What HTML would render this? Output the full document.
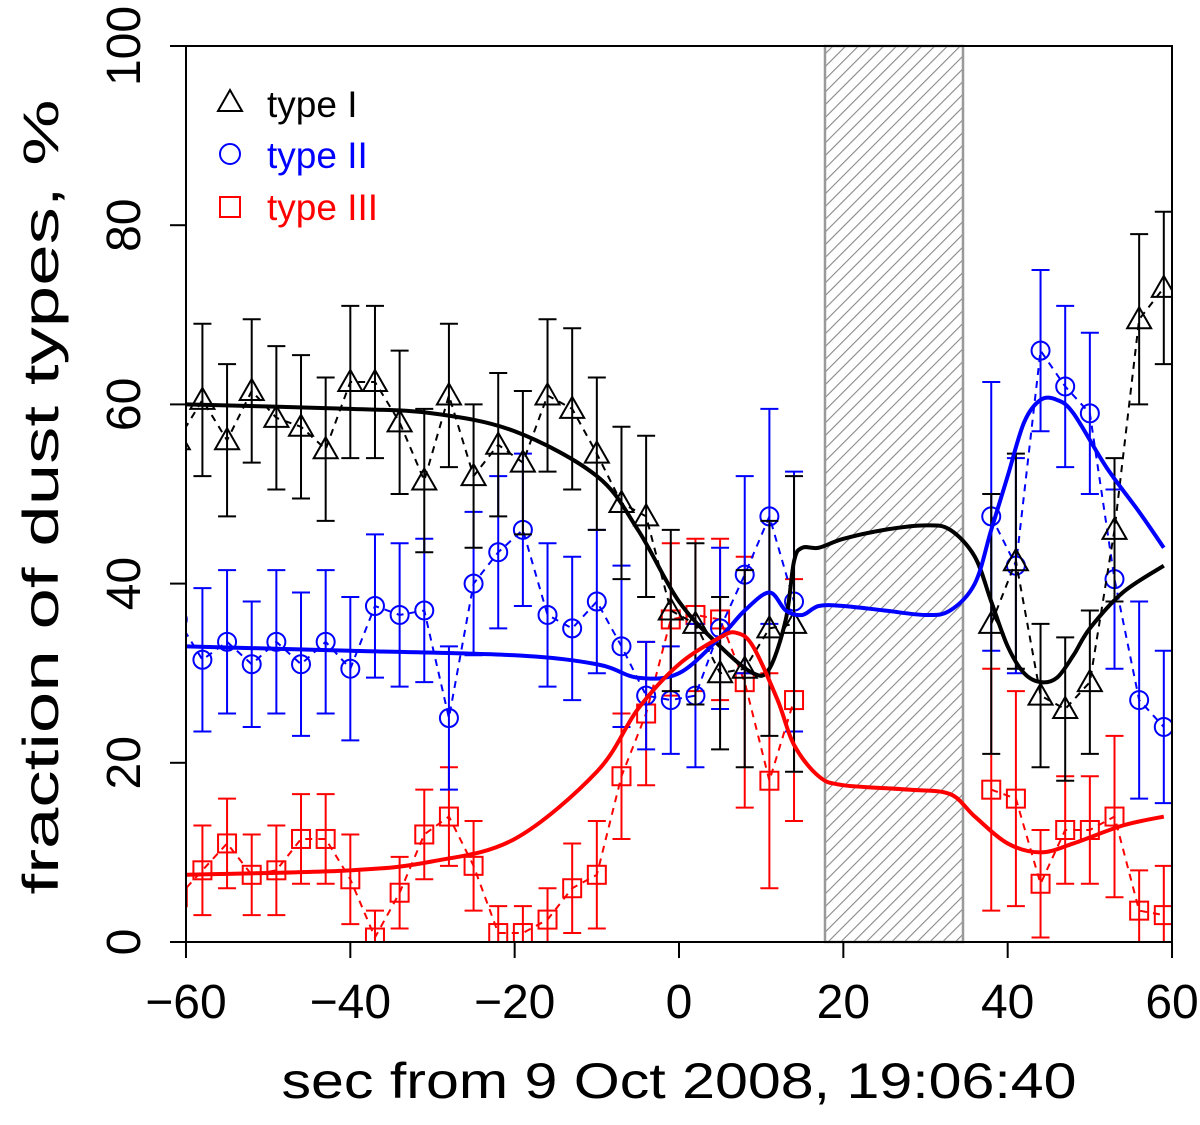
<!DOCTYPE html>
<html><head><meta charset="utf-8"><style>
body{margin:0;background:#fff}
svg text{font-family:"Liberation Sans",sans-serif}
</style></head><body>
<svg id="chart" width="1200" height="1120" viewBox="0 0 1200 1120" xmlns="http://www.w3.org/2000/svg">
<defs>
<pattern id="hatch" patternUnits="userSpaceOnUse" width="9" height="9" patternTransform="rotate(45)">
<line x1="0" y1="0" x2="0" y2="9" stroke="#888" stroke-width="2.2"/>
</pattern>
<clipPath id="clip"><rect x="186" y="46" width="986" height="896"/></clipPath>
</defs>
<rect x="825" y="46" width="138" height="896" fill="url(#hatch)" stroke="#999" stroke-width="2.5"/>
<g id="marks" clip-path="url(#clip)"></g>
<rect x="186" y="46" width="986" height="896" fill="none" stroke="#000" stroke-width="2"/>
<g id="axes"></g>
<text x="679" y="1098" font-size="50" text-anchor="middle" textLength="795" lengthAdjust="spacingAndGlyphs">sec from 9 Oct 2008, 19:06:40</text>
<text transform="translate(58,497) rotate(-90)" font-size="50" text-anchor="middle" textLength="795" lengthAdjust="spacingAndGlyphs">fraction of dust types, %</text>
<g>
<g><polygon points="230,90 242,111 218,111" fill="none" stroke="#000" stroke-width="2"/><text x="267" y="117" font-size="37">type I</text></g>
<g><circle cx="230" cy="154" r="10" fill="none" stroke="#00f" stroke-width="2"/><text x="267" y="168" font-size="37" fill="#00f">type II</text></g>
<g><rect x="220" y="197" width="20" height="20" fill="none" stroke="#f00" stroke-width="2"/><text x="267" y="220" font-size="37" fill="#f00">type III</text></g>
</g>
</svg>
<script>
const times = [-61,-58,-55,-52,-49,-46,-43,-40,-37,-34,-31,-28,-25,-22,-19,-16,-13,-10,-7,-4,-1,2,5,8,11,14,38,41,44,47,50,53,56,59];
const type1 = [56,60.5,56,61.5,58.5,57.5,55,62.5,62.5,58,51.5,61,52,55.5,53.5,61,59.5,54.5,49,47.5,37,35.5,30,30.5,35,35.5,35.5,42.5,27.5,26,29,46,69.5,73];
const type1Err = [8,8.5,8.5,8,8,8,8,8.5,8.5,8,8,8,8,8,8,8.5,9,8.5,8.5,9,9,9,8.5,11,12,16.5,14.5,12,8,8,8,8,9.5,8.5];
const type2 = [36,31.5,33.5,31,33.5,31,33.5,30.5,37.5,36.5,37,25,40,43.5,46,36.5,35,38,33,27.5,27,27.5,35,41,47.5,38,47.5,42,66,62,59,40.5,27,24];
const type2Err = [8,8,8,7,8,8,8,8,8,8,8,8,8,8.5,8.5,8,8,8,9,6,6,8,9,11,12,14.5,15,12,9,9,9,10,11,8.5];
const type3 = [5,8,11,7.5,8,11.5,11.5,7,0.5,5.5,12,14,8.5,1,1,2.5,6,7.5,18.5,25.5,36,36.5,36,29,18,27,17,16,6.5,12.5,12.5,14,3.5,3];
const type3Err = [5,5,5,4.5,5,5,5,5,3,4,5,5.5,5,3,3,3.5,5,6,7,8,8.5,8.5,9,14,12,13.5,13.5,12,6,6,6,9,4.5,5.5];
const smoothT1 = [-60,-40,-30,-20,-10,-5,0,5,9,11,13,14,15,17,20,25,30,33,36,38,40,42,44,46,48,50,54,59];
const smoothV1 = [60,59.5,59,57,52,46,38,33,30,30.5,36,42.5,44,44,45,46,46.5,46,43,38,33,30,29,29.5,32,35,39,42];
const smoothT2 = [-60,-40,-20,-10,-5,0,5,8,11,13,15,17,20,25,30,33,36,38,40,42,44,46,48,52,56,59];
const smoothV2 = [33,32.5,32,31,29.5,30,34,37,39,37,36.5,37.5,37.5,37,36.5,37,40,46,52,58,60.5,60.5,59,53,48,44];
const smoothT3 = [-60,-40,-30,-20,-10,-5,0,5,7,9,12,14,17,20,28,33,36,40,44,48,54,59];
const smoothV3 = [7.5,8,9,11.5,19,26,31,34,34.5,33,27,22,18.5,17.5,17,16.5,14,11,10,11,13,14];
const xTicks = [-60,-40,-20,0,20,40,60];
const yTicks = [0,20,40,60,80,100];

const X = v => 679 + v*8.217;
const Y = v => 942 - v*8.96;
const NS='http://www.w3.org/2000/svg';
const marks=document.getElementById('marks'), axes=document.getElementById('axes');
function mk(tag,attrs,parent){const e=document.createElementNS(NS,tag);for(const k in attrs)e.setAttribute(k,attrs[k]);parent.appendChild(e);return e;}

function smoothPath(ts,vs){
  const p=ts.map((t,i)=>[X(t),Y(vs[i])]);
  let d=`M${p[0][0]},${p[0][1]}`;
  for(let i=0;i<p.length-1;i++){
    const p0=p[Math.max(0,i-1)],p1=p[i],p2=p[i+1],p3=p[Math.min(p.length-1,i+2)];
    const c1=[p1[0]+(p2[0]-p0[0])/6,p1[1]+(p2[1]-p0[1])/6];
    const c2=[p2[0]-(p3[0]-p1[0])/6,p2[1]-(p3[1]-p1[1])/6];
    d+=` C${c1[0]},${c1[1]} ${c2[0]},${c2[1]} ${p2[0]},${p2[1]}`;
  }
  return d;
}

function series(vals,errs,color,shape,name){
  const g=mk('g',{},marks);
  
  
  let d='';
  times.forEach((t,i)=>{
    const brk = i>0 && times[i]-times[i-1]>5;
    d += (i===0||brk?'M':'L')+X(t)+','+Y(vals[i])+' ';
  });
  const ln=mk('path',{d:d,fill:'none',stroke:color,'stroke-width':2,'stroke-dasharray':'7,6'},g);
  
  
  times.forEach((t,i)=>{
    const x=X(t),y=Y(vals[i]),top=Y(vals[i]+errs[i]),bot=Y(Math.max(0,vals[i]-errs[i]));
    const eb=mk('path',{d:`M${x},${top}V${bot}M${x-9},${top}H${x+9}M${x-9},${bot}H${x+9}`,stroke:color,'stroke-width':2,fill:'none'},g);
    
    
    let m;
    if(shape==='tri') m=mk('polygon',{points:`${x},${y-12} ${x+12},${y+9} ${x-12},${y+9}`,fill:'none',stroke:color,'stroke-width':2},g);
    else if(shape==='circ') m=mk('circle',{cx:x,cy:y,r:9,fill:'none',stroke:color,'stroke-width':2},g);
    else m=mk('rect',{x:x-9,y:y-9,width:18,height:18,fill:'none',stroke:color,'stroke-width':2},g);
    
    
  });
}
series(type3,type3Err,'#f00','sq','type-iii');
series(type2,type2Err,'#00f','circ','type-ii');
series(type1,type1Err,'#000','tri','type-i');

[[smoothT1,smoothV1,'#000','type-i'],[smoothT2,smoothV2,'#00f','type-ii'],[smoothT3,smoothV3,'#f00','type-iii']].forEach(s=>{
  const p=mk('path',{d:smoothPath(s[0],s[1]),fill:'none',stroke:s[2],'stroke-width':4},marks);
  
  
});

xTicks.forEach(v=>{
  const t=mk('line',{x1:X(v),x2:X(v),y1:942,y2:958,stroke:'#000','stroke-width':2},axes);
  
  
  const l=mk('text',{x:X(v),y:1018,'font-size':48,'text-anchor':'middle'},axes);
  l.textContent=v<0?'\u2212'+(-v):String(v);
  
  
});
yTicks.forEach(v=>{
  const t=mk('line',{x1:170,x2:186,y1:Y(v),y2:Y(v),stroke:'#000','stroke-width':2},axes);
  
  
  const l=mk('text',{'font-size':48,'text-anchor':'middle',transform:`translate(140,${Y(v)}) rotate(-90)`},axes);
  l.textContent=String(v);
  
  
});
</script>
</body></html>
